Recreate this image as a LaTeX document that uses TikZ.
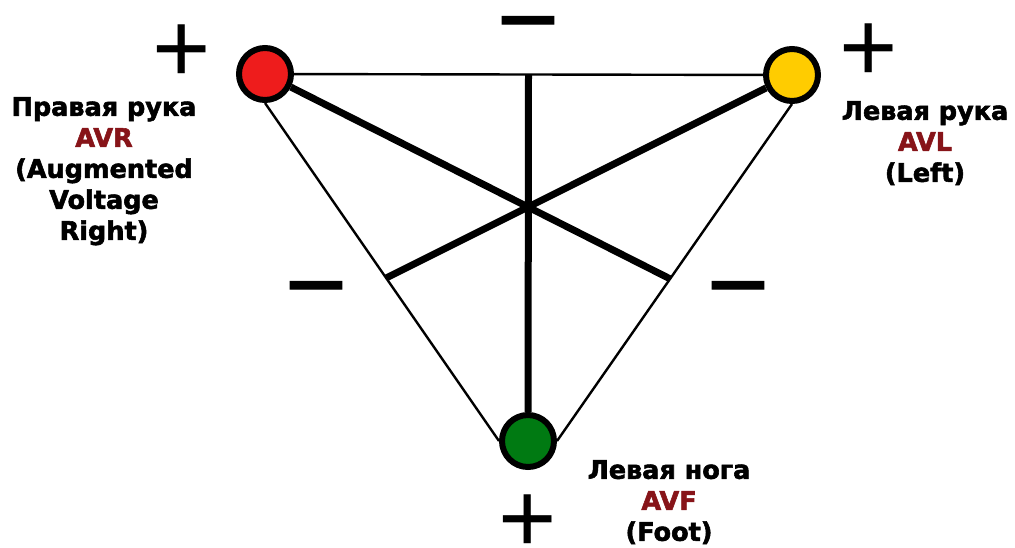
\documentclass[tikz,border=0pt]{standalone}
\usepackage{fontspec}
\setmainfont{DejaVu Sans}
\newfontfamily\signfont{Liberation Sans}
\newfontfamily\minusfont[FakeBold=1.2]{Liberation Sans}
\newfontfamily\namefont[FakeBold=2.2]{DejaVu Sans Bold}
\usetikzlibrary{calc}

\definecolor{leadred}{RGB}{238,28,28}
\definecolor{leadyellow}{RGB}{255,204,0}
\definecolor{leadgreen}{RGB}{0,122,18}
\definecolor{leadname}{RGB}{135,20,25}

\tikzset{
	electrode/.style={circle, draw=black, line width=6pt, minimum size=52pt, inner sep=0pt},
	wire/.style={line width=2.4pt},
	axisline/.style={line width=7pt},
	plussign/.style={font=\signfont\fontsize{100}{100}\selectfont, inner sep=0pt},
	minussign/.style={font=\minusfont\fontsize{106}{106}\selectfont, inner sep=0pt},
	leadlabel/.style={font=\namefont\fontsize{25.5}{31}\selectfont, align=center, inner sep=0pt, anchor=north}
}

\begin{document}
\begin{tikzpicture}[x=1pt, y=-1pt]
		%%%%% START %%%%%
		\useasboundingbox (0,0) rectangle (1015,547);
		\fill[white] (0,0) rectangle (1015,547);
		
		% electrodes
		\node[electrode, fill=leadred] (ra) at (265,74) {};
		\node[electrode, fill=leadyellow] (la) at (792,75) {};
		\node[electrode, fill=leadgreen] (lf) at (528,441) {};
		
		\coordinate (ctr) at (528,207);
		\coordinate (top) at ($(ra)!0.5!(la)$);
		\coordinate (rm) at (intersection of la--ctr and ra.south--lf.west);
		\coordinate (lm) at (intersection of ra--ctr and la.south--lf.east);
		
		% triangle
		\draw[wire] (ra) -- (la);
		\draw[wire] (ra.south) -- (lf.west);
		\draw[wire] (la.south) -- (lf.east);
		
		% augmented leads
		\draw[axisline] (ra) -- (lm);
		\draw[axisline] (la) -- (rm);
		\draw[axisline] (top) -- (lf);
		
		% poles
		\node[plussign] (rap) at (182,54) {+};
		\node[plussign] (lap) at (869,53) {+};
		\node[plussign] (lfp) at (528,524) {+};
		\node[minussign] (top-m) at (528,36) {−};
		\node[minussign] (left-m) at (316,301) {−};
		\node[minussign] (right-m) at (738,301) {−};
		
		% names
		\node[leadlabel] (ra-name) at (104,97) {Правая рука\\{\color{leadname}AVR}\\(Augmented\\Voltage\\Right)};
		\node[leadlabel] (la-name) at (925,101) {Левая рука\\{\color{leadname}AVL}\\(Left)};
		\node[leadlabel] (lf-name) at (669,460) {Левая нога\\{\color{leadname}AVF}\\(Foot)};
		
		%%%%% END %%%%%
\end{tikzpicture}
\end{document}
